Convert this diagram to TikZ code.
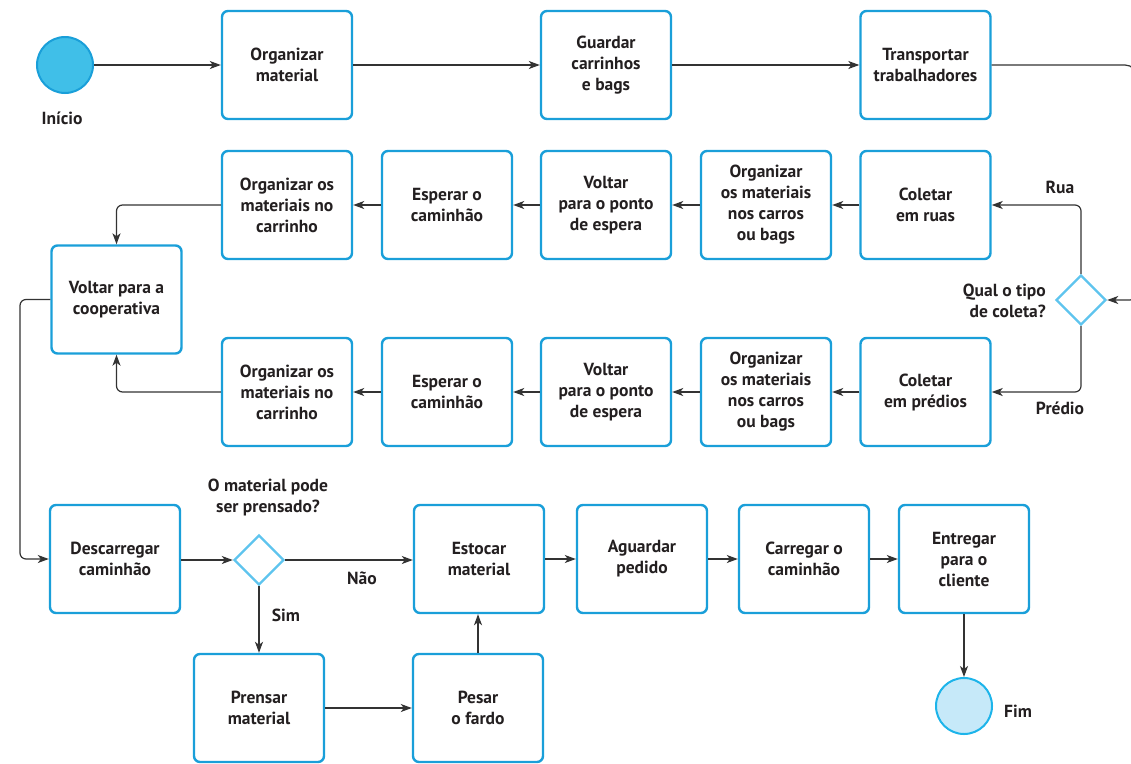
\documentclass[tikz,border=0pt]{standalone}
\usepackage{fontspec}
\setmainfont{PT Sans}
\usetikzlibrary{arrows.meta,shapes.geometric}
\definecolor{boxc}{HTML}{1A9FD9}
\definecolor{dia}{HTML}{5EC4EE}
\definecolor{startfill}{HTML}{40BFE8}
\definecolor{endfill}{HTML}{C6E9F9}
\definecolor{endline}{HTML}{1DB4EA}
\definecolor{txt}{HTML}{231F20}
\definecolor{ln}{HTML}{333333}
\tikzset{
  stepbox/.style={draw=boxc, line width=2.4pt, rounded corners=6pt, fill=white,
    minimum width=130pt, minimum height=108pt, align=center, text=txt,
    font=\fontsize{17.5}{21}\selectfont\bfseries, inner sep=0pt},
  decision/.style={diamond, draw=dia, line width=2.4pt, fill=white,
    minimum width=50pt, minimum height=50pt, inner sep=0pt},
  lbl/.style={text=txt, font=\fontsize{17.5}{21}\selectfont\bfseries, align=center, inner sep=0pt},
  conn/.style={draw=ln, line width=1.2pt, rounded corners=6pt,
    -{Stealth[length=11pt, width=8pt, inset=3pt]}},
  plain/.style={draw=ln, line width=1.2pt, rounded corners=6pt},
}
\begin{document}
\begin{tikzpicture}[x=1pt,y=-1pt]
\clip (0,0) rectangle (1131,763);
\useasboundingbox (0,0) rectangle (1131,763);
% start / end
\node[circle, draw=boxc, fill=startfill, line width=2pt, minimum size=56pt, inner sep=0pt] (start) at (65,65) {};
\node[lbl] (startl) at (62,118) {Início};
\node[circle, draw=endline, fill=endfill, line width=2pt, minimum size=56pt, inner sep=0pt] (fim) at (964,706) {};
\node[lbl, anchor=west] (fiml) at (1004,711) {Fim};
% row 1
\node[stepbox] (org) at (287,65) {Organizar\\material};
\node[stepbox] (guard) at (606,65) {Guardar\\carrinhos\\e bags};
\node[stepbox] (transp) at (925.5,65) {Transportar\\trabalhadores};
% row 2
\node[stepbox] (colr) at (925.5,205) {Coletar\\em ruas};
\node[stepbox] (orgr) at (766,205) {Organizar\\os materiais\\nos carros\\ou bags};
\node[stepbox] (voltr) at (606,205) {Voltar\\para o ponto\\de espera};
\node[stepbox] (espr) at (447,205) {Esperar o\\caminhão};
\node[stepbox] (carr) at (287,205) {Organizar os\\materiais no\\carrinho};
% row 3
\node[stepbox] (colp) at (925.5,392) {Coletar\\em prédios};
\node[stepbox] (orgp) at (766,392) {Organizar\\os materiais\\nos carros\\ou bags};
\node[stepbox] (voltp) at (606,392) {Voltar\\para o ponto\\de espera};
\node[stepbox] (espp) at (447,392) {Esperar o\\caminhão};
\node[stepbox] (carp) at (287,392) {Organizar os\\materiais no\\carrinho};
% cooperativa
\node[stepbox] (coop) at (116.5,299.5) {Voltar para a\\cooperativa};
% right decision
\node[decision] (tipo) at (1081,300) {};
\node[lbl, align=right, anchor=east] (tipol) at (1046,301) {Qual o tipo\\de coleta?};
\node[lbl] (rual) at (1060,187) {Rua};
\node[lbl] (predl) at (1060,408) {Prédio};
% row 4
\node[stepbox] (desc) at (115,559) {Descarregar\\caminhão};
\node[decision] (pode) at (259,560) {};
\node[lbl] (podel) at (268,497) {O material pode\\ser prensado?};
\node[lbl] (naol) at (362,578) {Não};
\node[lbl] (siml) at (286,615) {Sim};
\node[stepbox] (est) at (479,559) {Estocar\\material};
\node[stepbox] (agu) at (642,559) {Aguardar\\pedido};
\node[stepbox] (carg) at (804,559) {Carregar o\\caminhão};
\node[stepbox] (entr) at (964,559) {Entregar\\para o\\cliente};
% row 5
\node[stepbox] (pren) at (259,708) {Prensar\\material};
\node[stepbox] (pes) at (478,708) {Pesar\\o fardo};
% connectors
\coordinate (offr) at (1137,65);
\coordinate (offd) at (1142,270);
\draw[conn] (start) -- (org);
\draw[conn] (org) -- (guard);
\draw[conn] (guard) -- (transp);
\draw[plain, rounded corners=12pt] (transp.east) -- (offr) -- (1137,180);
\draw[conn, rounded corners=12pt] (offd) |- (tipo.east);
\draw[conn] (tipo.north) |- (colr.east);
\draw[conn] (tipo.south) |- (colp.east);
\draw[conn] (colr) -- (orgr);
\draw[conn] (orgr) -- (voltr);
\draw[conn] (voltr) -- (espr);
\draw[conn] (espr) -- (carr);
\draw[conn] (colp) -- (orgp);
\draw[conn] (orgp) -- (voltp);
\draw[conn] (voltp) -- (espp);
\draw[conn] (espp) -- (carp);
\draw[conn] (carr.west) -| (coop.north);
\draw[conn] (carp.west) -| (coop.south);
\draw[conn] (coop.west) -- (20,299.5) |- (desc.west);
\draw[conn] (desc.east |- pode.west) -- (pode.west);
\draw[conn] (pode.east) -- (est.west |- pode.east);
\draw[conn] (pode.south) -- (pren.north);
\draw[conn] (pren) -- (pes);
\draw[conn] (pes.north) -- (pes.north |- est.south);
\draw[conn] (est) -- (agu);
\draw[conn] (agu) -- (carg);
\draw[conn] (carg) -- (entr);
\draw[conn] (entr) -- (fim);
\end{tikzpicture}
\end{document}
